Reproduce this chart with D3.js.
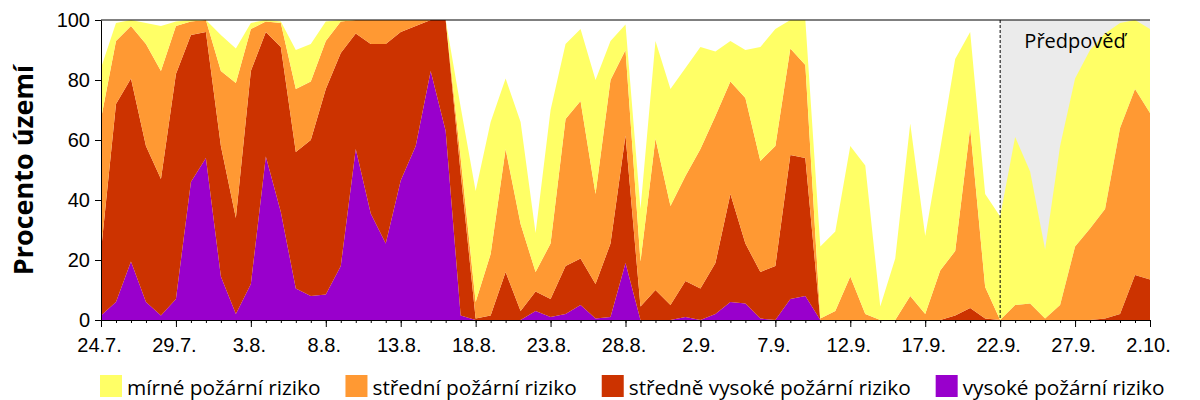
<!DOCTYPE html>
<html>
<head>
<meta charset="utf-8">
<script src="https://cdn.jsdelivr.net/npm/d3@7"></script>
<style>
  body { margin: 0; background: #fff; }
  svg { display: block; font-family: "Open Sans", "Noto Sans", sans-serif; }
</style>
</head>
<body>
<div id="chart"></div>
<script>
// daily shares of the territory (%) per fire risk level, 24.7. - 2.10.
const vysoke = [1.5, 6, 19.5, 6, 1.5, 7, 46, 54, 14.5, 2,
  12, 54.5, 36, 10.5, 8, 8.5, 18, 57, 35.5, 25.5,
  46.5, 58, 83, 63, 1.5, 0, 0, 0, 0, 3,
  1, 2, 5, 0.5, 1, 19, 0, 0, 0, 1,
  0, 2, 6, 5.5, 0.5, 0, 7, 8, 0, 0,
  0, 0, 0, 0, 0, 0, 0, 0, 0, 0,
  0, 0, 0, 0, 0, 0, 0, 0, 0, 0, 0]

const stredneVysoke = [21.5, 66, 61, 52, 45.5, 75, 49, 42, 43.5, 32,
  71, 41.5, 55, 45.5, 52, 68.5, 71, 38.5, 56.5, 66.5,
  49.5, 40, 17, 37, 47.5, 0.5, 1.5, 16, 3, 6.5,
  6, 16, 15.5, 11.5, 24.5, 42.5, 4.5, 10, 5, 12,
  10.5, 17, 36, 20, 15.5, 18, 48, 46, 0, 0,
  0, 0, 0, 0, 0, 0, 0, 1.5, 4, 0.5,
  0, 0, 0, 0, 0, 0, 0, 0.5, 2, 15, 13.5]

const stredni = [44, 21, 17.5, 34, 36, 16, 4.5, 4, 25, 45,
  14, 3.5, 8, 21, 19.5, 16, 10.5, 4.5, 8, 8,
  4, 2, 0, 0, 5, 5.5, 20.5, 41, 29, 6.5,
  18.5, 49, 52.5, 30, 54.5, 28.5, 15, 50.5, 33, 35,
  46.5, 49, 37.5, 48.5, 37, 40, 35.5, 31, 0.5, 3,
  14.5, 2, 0, 0, 8, 2, 16.5, 21.5, 60, 10.5,
  0, 5, 5.5, 0.5, 5, 24.5, 30.5, 36.5, 62, 62, 55.5]

const mirne = [17, 6, 2, 7, 15, 1.5, 0.5, 0, 12, 11.5,
  2, 0.5, 0.5, 13, 12.5, 6.5, 0.5, 0, 0, 0,
  0, 0, 0, 0, 17, 37, 44, 23.5, 34, 13,
  44.5, 25, 24, 38, 13, 8.5, 17.5, 32.5, 39, 36,
  34, 21.5, 13.5, 16, 38, 39, 9.5, 15, 24, 26.5,
  43.5, 49.5, 4.5, 20.5, 57.5, 26, 40.5, 64, 32, 31,
  34.5, 56, 44, 23, 53, 56, 59.5, 58.5, 35, 23, 28]

const days = d3.utcDay.range(new Date(Date.UTC(2023, 6, 24)), new Date(Date.UTC(2023, 9, 3)))
const forecastStart = new Date(Date.UTC(2023, 8, 22))

const seriesKeys = ['vysoke', 'stredneVysoke', 'stredni', 'mirne']
const seriesLabels = {
  mirne: 'mírné požární riziko',
  stredni: 'střední požární riziko',
  stredneVysoke: 'středně vysoké požární riziko',
  vysoke: 'vysoké požární riziko'
}
const colors = {mirne: '#FFFF66', stredni: '#FF9933', stredneVysoke: '#CC3300', vysoke: '#9900CC'}
const legendOrder = ['mirne', 'stredni', 'stredneVysoke', 'vysoke']

const width = 1200
const height = 400
const margin = {top: 20, right: 50, bottom: 80, left: 101}

const rows = days.map((d, i) => ({
  date: d,
  vysoke: vysoke[i],
  stredneVysoke: stredneVysoke[i],
  stredni: stredni[i],
  mirne: mirne[i]
}))

const stacked = d3.stack().keys(seriesKeys)(rows)

const xScale = d3.scaleUtc()
  .domain(d3.extent(days))
  .range([margin.left, width - margin.right])

const yScale = d3.scaleLinear()
  .domain([0, 100])
  .range([height - margin.bottom, margin.top])

const svg = d3.select('#chart')
  .append('svg')
  .attr('width', width)
  .attr('height', height)

// forecast background
svg.append('rect')
  .attr('x', xScale(forecastStart))
  .attr('y', yScale(100))
  .attr('width', xScale(days[days.length - 1]) - xScale(forecastStart))
  .attr('height', yScale(0) - yScale(100))
  .attr('fill', '#EBEBEB')

const area = d3.area()
  .x(d => xScale(d.data.date))
  .y0(d => yScale(d[0]))
  .y1(d => yScale(d[1]))

svg.append('g')
  .selectAll('path')
  .data(stacked)
  .join('path')
  .attr('d', area)
  .attr('fill', d => colors[d.key])

// forecast divider + label
svg.append('line')
  .attr('x1', xScale(forecastStart)).attr('x2', xScale(forecastStart))
  .attr('y1', yScale(100)).attr('y2', yScale(0))
  .attr('stroke', '#000')
  .attr('stroke-width', 1)
  .attr('stroke-dasharray', '3,2')

svg.append('text')
  .attr('x', (xScale(forecastStart) + xScale(days[days.length - 1])) / 2)
  .attr('y', 48)
  .attr('text-anchor', 'middle')
  .attr('font-size', 20)
  .text('Předpověď')

// top frame line
svg.append('line')
  .attr('x1', margin.left).attr('x2', width - margin.right)
  .attr('y1', yScale(100)).attr('y2', yScale(100))
  .attr('stroke', '#000')

// x axis: daily minor ticks, labelled every 5 days
svg.append('g')
  .attr('transform', 'translate(' + [0, height - margin.bottom] + ')')
  .call(d3.axisBottom(xScale).tickValues(days).tickSize(3).tickFormat(''))
  .call(g => g.select('.domain').remove())
  .call(g => g.selectAll('line').attr('stroke', '#000'))

const xAxis = svg.append('g')
  .attr('transform', 'translate(' + [0, height - margin.bottom] + ')')
  .call(d3.axisBottom(xScale)
    .tickValues(days.filter((d, i) => i % 5 === 0))
    .tickSize(7)
    .tickSizeOuter(0)
    .tickPadding(11)
    .tickFormat(d3.utcFormat('%-d.%-m.')))
xAxis.selectAll('text').attr('font-size', 20).attr('fill', '#000').attr('font-family', null).attr('dx', -2)
xAxis.selectAll('line, path').attr('stroke', '#000')

const yAxis = svg.append('g')
  .attr('transform', 'translate(' + [margin.left, 0] + ')')
  .call(d3.axisLeft(yScale).tickValues([0, 20, 40, 60, 80, 100]).tickSize(6).tickSizeOuter(0).tickPadding(5))
yAxis.selectAll('text').attr('font-size', 20).attr('fill', '#000').attr('font-family', null)
yAxis.selectAll('line, path').attr('stroke', '#000')

svg.append('text')
  .attr('transform', 'translate(33,' + (margin.top + (height - margin.bottom - margin.top) / 2) + ') rotate(-90)')
  .attr('text-anchor', 'middle')
  .attr('font-size', 27)
  .attr('font-weight', 'bold')
  .text('Procento území')

// legend, laid out inline
let lx = 100
legendOrder.forEach(key => {
  const g = svg.append('g').attr('transform', 'translate(' + [lx, 375] + ')')
  g.append('rect')
    .attr('width', 22)
    .attr('height', 22)
    .attr('fill', colors[key])
  const t = g.append('text')
    .attr('x', 27)
    .attr('y', 20)
    .attr('font-size', 20.8)
    .text(seriesLabels[key])
  lx += 27 + t.node().getComputedTextLength() + 25
})
</script>
</body>
</html>
